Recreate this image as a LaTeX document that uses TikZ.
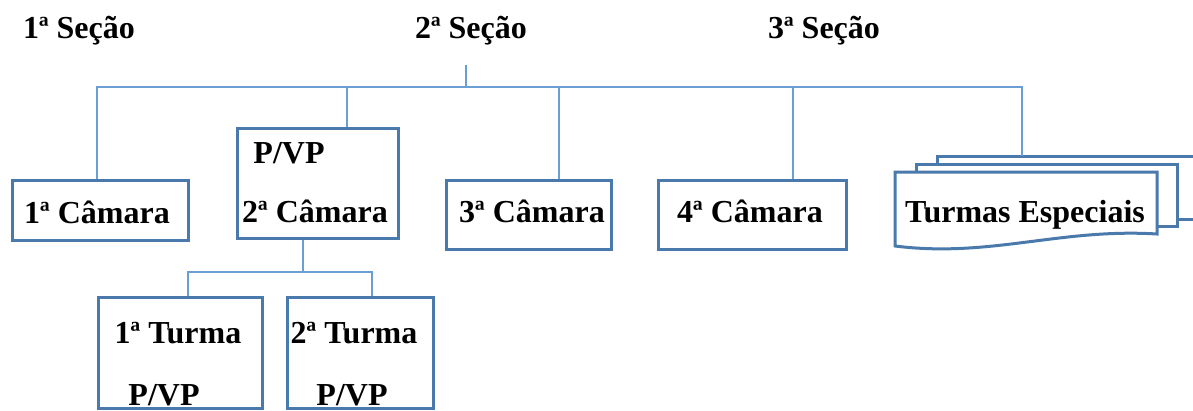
\documentclass[tikz,border=0pt]{standalone}
\usepackage{fontspec}
\setmainfont{Liberation Serif}
\definecolor{boxblue}{HTML}{4A79AC}
\definecolor{linkblue}{HTML}{6A9FD4}
\begin{document}
\begin{tikzpicture}[x=1pt,y=-1pt,
  box/.style={draw=boxblue, line width=3pt, fill=white, inner sep=0pt},
  sheet/.style={draw=boxblue, line width=3pt, fill=white},
  link/.style={draw=linkblue, line width=1.3pt},
  lbl/.style={anchor=base, inner sep=0pt, text=black, font=\bfseries\fontsize{32}{38}\selectfont}]
\useasboundingbox (0,0) rectangle (1193,410);
\clip (0,0) rectangle (1193,410);

% section headings
\node[lbl] (s1) at (79,38) {1ª Seção};
\node[lbl] (s2) at (471,38) {2ª Seção};
\node[lbl] (s3) at (824,38) {3ª Seção};

% chamber boxes
\node[box, minimum width=176pt, minimum height=60pt]  (cam1) at (100,210)   {};
\node[box, minimum width=161pt, minimum height=110pt] (cam2) at (317.5,183) {};
\node[box, minimum width=165pt, minimum height=69pt]  (cam3) at (528.5,214.5) {};
\node[box, minimum width=188pt, minimum height=69pt]  (cam4) at (752,214.5) {};

% panel boxes
\node[box, minimum width=164pt, minimum height=111pt] (t1) at (180,352.5) {};
\node[box, minimum width=146pt, minimum height=111pt] (t2) at (360,352.5) {};

% stacked "Turmas Especiais" sheets
\draw[sheet] (937,156) rectangle (1215,219);
\draw[sheet] (916,164) rectangle (1177,226);
\draw[sheet]
  (895,172) -- (1157,172) -- (1157,234)
  .. controls (1060,228) and (990,258) .. (895,246) -- cycle;
\coordinate (esp) at (1022,156);

% labels
\node[lbl] at (97,223) {1ª Câmara};
\node[lbl] at (289,163) {P/VP};
\node[lbl] at (315,222) {2ª Câmara};
\node[lbl] at (532,222) {3ª Câmara};
\node[lbl] at (750,222) {4ª Câmara};
\node[lbl] (espl) at (1025,222) {Turmas Especiais};
\node[lbl] at (178,343) {1ª Turma};
\node[lbl] at (164,405) {P/VP};
\node[lbl] at (354,343) {2ª Turma};
\node[lbl] at (352,405) {P/VP};

% top-level connectors
\coordinate (top) at (466,65);
\coordinate (bus) at (466,87);
\draw[link] (top) -- (bus);
\draw[link] (bus) -| ([xshift=-3pt]cam1.north);
\draw[link] (bus) -| ([xshift=29.5pt]cam2.north);
\draw[link] (bus) -| ([xshift=30.5pt]cam3.north);
\draw[link] (bus) -| ([xshift=41pt]cam4.north);
\draw[link] (bus) -| (esp);

% connectors under the second chamber
\coordinate (tbus) at (303,272);
\draw[link] (tbus |- cam2.south) -- (tbus);
\draw[link] (tbus) -| ([xshift=8pt]t1.north);
\draw[link] (tbus) -| ([xshift=12pt]t2.north);
\end{tikzpicture}
\end{document}
